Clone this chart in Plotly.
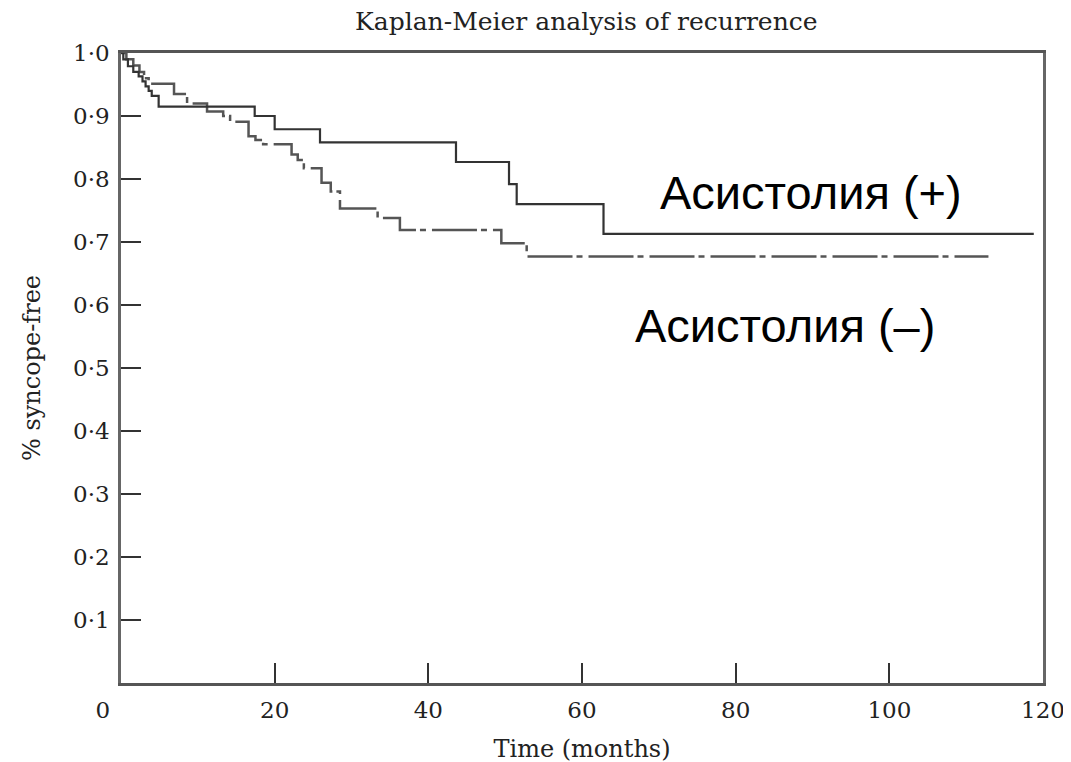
import plotly.graph_objects as go

# Асистолия (+) : step times (months) and survival after each step
pos_times = [0.3, 0.9, 1.6, 2.3, 2.8, 3.2, 3.6, 4.0, 4.9, 17.4, 20.0, 25.9, 43.6, 50.5, 51.5, 62.8]
pos_surv = [0.99, 0.979, 0.97, 0.963, 0.955, 0.947, 0.94, 0.932, 0.915, 0.90, 0.879, 0.858, 0.827, 0.792, 0.76, 0.713]
pos_end = 118.8

# Асистолия (–)
neg_times = [0.7, 1.6, 2.4, 3.0, 3.6, 6.9, 8.6, 11.2, 13.3, 14.2, 16.6, 17.5, 18.5, 22.2, 23.0, 23.8,
             26.1, 27.3, 28.5, 33.4, 36.3, 49.5, 52.8]
neg_surv = [0.99, 0.98, 0.97, 0.96, 0.951, 0.935, 0.92, 0.907, 0.90, 0.891, 0.868, 0.862, 0.855, 0.839, 0.83, 0.817,
            0.794, 0.78, 0.753, 0.738, 0.719, 0.698, 0.677]
neg_end = 112.9

x_ticks = [0, 20, 40, 60, 80, 100, 120]
x_ticktext = ["0\u00a0\u00a0\u00a0\u00a0\u00a0", "20", "40", "60", "80", "100", "120"]
y_ticks = [0.1, 0.2, 0.3, 0.4, 0.5, 0.6, 0.7, 0.8, 0.9, 1.0]
y_ticktext = ["0·1", "0·2", "0·3", "0·4", "0·5", "0·6", "0·7", "0·8", "0·9", "1·0"]

labels = ["Асистолия (+)", "Асистолия (–)"]
label_x = [89.8, 86.4]
label_y = [0.779, 0.567]

title = "Kaplan-Meier analysis of recurrence"
x_title = "Time (months)"
y_title = "% syncope-free"

serif = "DejaVu Serif"
txt = "#222222"

fig = go.Figure()
fig.add_trace(go.Scatter(
    x=[0] + neg_times + [neg_end], y=[1.0] + neg_surv + [neg_surv[-1]],
    mode="lines", line=dict(shape="hv", color="#555555", width=2.5, dash="45px,4px,6px,6px"),
    showlegend=False, hoverinfo="skip"))
fig.add_trace(go.Scatter(
    x=[0] + pos_times + [pos_end], y=[1.0] + pos_surv + [pos_surv[-1]],
    mode="lines", line=dict(shape="hv", color="#333333", width=2.2),
    showlegend=False, hoverinfo="skip"))

for t, lx, ly in zip(labels, label_x, label_y):
    fig.add_annotation(x=lx, y=ly, text=t, showarrow=False,
                       font=dict(family="Liberation Sans", size=47, color="#000000"))

fig.update_layout(
    width=1071, height=762,
    margin=dict(l=113, r=36, t=45, b=85),
    paper_bgcolor="white", plot_bgcolor="white",
    title=dict(text=title, x=0.54, xanchor="center", y=0.982, yanchor="middle",
               font=dict(family=serif, size=25, color=txt)),
)
fig.update_xaxes(
    range=[0, 120], tickvals=x_ticks, ticktext=x_ticktext, ticks="inside", ticklen=20, tickwidth=2,
    tickcolor="#333", ticklabelstandoff=5,
    showline=True, linecolor="#555", linewidth=2.5, mirror=True, showgrid=False, zeroline=False,
    tickfont=dict(family=serif, size=23, color=txt),
    title=dict(text=x_title, font=dict(family=serif, size=24, color=txt), standoff=18),
)
fig.update_yaxes(
    range=[0, 1], tickvals=y_ticks, ticktext=y_ticktext, ticks="inside", ticklen=20, tickwidth=2,
    tickcolor="#333", ticklabelstandoff=4, showline=True, linecolor="#666", linewidth=2.5, mirror=True,
    showgrid=False, zeroline=False, tickfont=dict(family=serif, size=23, color=txt),
    title=dict(text=y_title, font=dict(family=serif, size=24, color=txt), standoff=26),
)

fig.write_html("out.html")
